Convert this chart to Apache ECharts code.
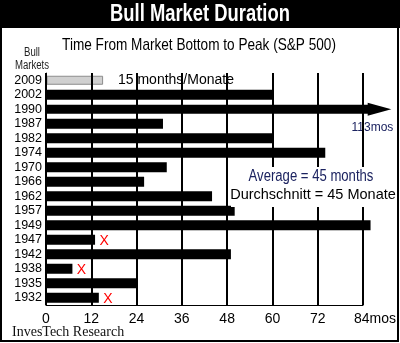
<!DOCTYPE html>
<html><head><meta charset="utf-8">
<script src="https://cdn.jsdelivr.net/npm/echarts@6/dist/echarts.min.js"></script>
<style>html,body{margin:0;padding:0;background:#fff}#c{width:400px;height:343px}</style>
</head><body><div id="c"></div><script>
const categories = ['2009','2002','1990','1987','1982','1974','1970','1966','1962','1957','1949','1947','1942','1938','1935','1932'];
const durations = [15,60,113,31,60,74,32,26,44,50,86,13,49,7,24,14];
const failMarks = ['','','','','','','','','','','','X','','X','','X'];
const xTicks = [0,12,24,36,48,60,72,84];
const unit = 'mos';
const avgMonths = 45;
const currentMonths = 15;

const SANS = '"Liberation Sans",Arial,sans-serif';
const SERIF = '"Liberation Serif","DejaVu Serif",serif';
const AXIS_MAX = xTicks[xTicks.length-1], ARROW_BODY = 85.5, ARROW_TIP = 91.5;

function renderBar(params, api){
  const i = params.dataIndex;
  const v = api.value(0);
  const p0 = api.coord([0, i]);
  const children = [];
  if (i === 0) {
    const p1 = api.coord([v, i]);
    children.push({type:'rect', shape:{x:p0[0]+1, y:p0[1]-4, width:p1[0]-p0[0]-1, height:8},
      style:{fill:'#d0d0d0', stroke:'#8c8c8c', lineWidth:1}});
  } else if (v > AXIS_MAX + 10) {
    const pb = api.coord([ARROW_BODY, i]);
    const pt = api.coord([ARROW_TIP, i]);
    children.push({type:'rect', shape:{x:p0[0], y:p0[1]-4.5, width:pb[0]-p0[0], height:9}, style:{fill:'#000'}});
    children.push({type:'polygon', shape:{points:[[pb[0]-1,p0[1]-6.5],[pt[0],p0[1]],[pb[0]-1,p0[1]+6.5]]}, style:{fill:'#000'}});
    children.push({type:'text', z2:50, style:{x:pt[0]+2, y:p0[1]+18, text:v+unit, align:'right', verticalAlign:'middle',
      font:'12px '+SANS, fill:'#1c2360', backgroundColor:'#fff', padding:[1,0,1,1]}});
  } else {
    const p1 = api.coord([v, i]);
    children.push({type:'rect', shape:{x:p0[0], y:p0[1]-5, width:p1[0]-p0[0], height:10}, style:{fill:'#000'}});
    if (failMarks[i]) {
      children.push({type:'text', style:{x:p1[0]+9, y:p0[1]+1, text:failMarks[i], align:'center', verticalAlign:'middle',
        font:'14px '+SANS, fill:'#ff0000'}});
    }
  }
  return {type:'group', children};
}

function narrowText(x, y, text, font, fill, sx, extra){
  return Object.assign({type:'text', z:101, x:x, y:y, scaleX:sx, style:Object.assign({text:text, x:0, y:0, align:'center', verticalAlign:'middle', font:font, fill:fill}, extra||{})});
}

const chart = echarts.init(document.getElementById('c'), null, {renderer:'canvas'});
chart.setOption({
  animation:false,
  backgroundColor:'#fff',
  grid:{left:46, right:37, top:73, bottom:38, containLabel:false},
  xAxis:{type:'value', min:0, max:AXIS_MAX, interval:12, z:5,
    axisLine:{show:true, lineStyle:{color:'#000', width:1}},
    axisTick:{show:false},
    splitLine:{show:true, lineStyle:{color:'#000', width:2}},
    axisLabel:{margin:7, fontFamily:SANS, fontSize:14, color:'#000',
      formatter:v => v === AXIS_MAX ? '{p|}' + v + unit : String(v),
      rich:{p:{width:24}}}
  },
  yAxis:{type:'category', data:categories, inverse:true,
    axisLine:{show:true, lineStyle:{color:'#444', width:1}},
    axisTick:{show:false},
    axisLabel:{interval:0, margin:4, fontFamily:SANS, fontSize:12.5, color:'#000'}
  },
  series:[{type:'custom', renderItem:renderBar, z:2,
    data:durations.map((d,i)=>[d, categories[i]]), encode:{x:0, y:1}}],
  graphic:[
    {type:'rect', z:100, shape:{x:0,y:0,width:400,height:28}, style:{fill:'#000'}},
    narrowText(200, 15, 'Bull Market Duration', 'bold 23px '+SANS, '#fff', 0.8),
    {type:'rect', z:100, shape:{x:1,y:1,width:397,height:340}, style:{fill:null, stroke:'#000', lineWidth:2}},
    narrowText(199, 45, 'Time From Market Bottom to Peak (S&P 500)', '17px '+SANS, '#000', 0.8),
    narrowText(32, 59, 'Bull\nMarkets', '12px '+SANS, '#222', 0.8, {lineHeight:13}),
    {type:'text', z:1, x:118, y:80, style:{text:currentMonths+' months/Monate', align:'left', verticalAlign:'middle',
      font:'14px '+SANS, fill:'#000'}},
    {type:'rect', z:100, shape:{x:231,y:167,width:166,height:40}, style:{fill:'#fff'}},
    narrowText(311, 177, 'Average = '+avgMonths+' months', '16px '+SANS, '#1c2360', 0.82),
    {type:'text', z:101, x:313, y:195, style:{text:'Durchschnitt = '+avgMonths+' Monate', align:'center', verticalAlign:'middle',
      font:'14.5px '+SANS, fill:'#000'}},
    {type:'text', z:101, x:12, y:332, style:{text:'InvesTech Research', align:'left', verticalAlign:'middle',
      font:'14px '+SERIF, fill:'#111'}}
  ]
});
</script></body></html>
